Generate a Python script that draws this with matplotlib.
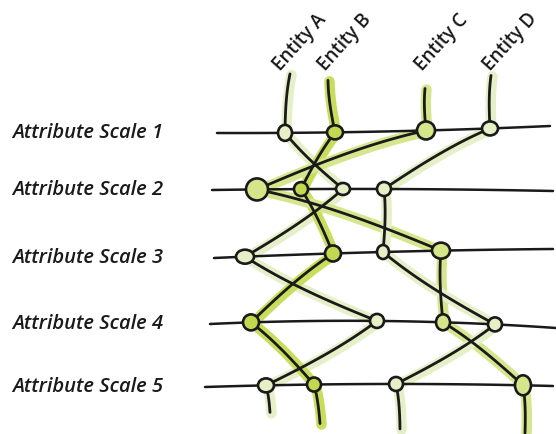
import numpy as np
import matplotlib
matplotlib.use("Agg")
import matplotlib.pyplot as plt
from matplotlib.patches import Ellipse

# scales (rows) and entities (columns)
scales = ["Attribute Scale 1", "Attribute Scale 2", "Attribute Scale 3",
          "Attribute Scale 4", "Attribute Scale 5"]
entities = ["Entity A", "Entity B", "Entity C", "Entity D"]

# position of each entity along each scale (left -> right)
entity_a = [285, 343, 245, 377, 266]
entity_b = [335, 301, 333, 251, 314]
entity_c = [426, 257, 441, 443, 523]
entity_d = [490, 384, 383, 495, 396]
values = [entity_a, entity_b, entity_c, entity_d]

# ---- layout / style (pixel space) ----
W, H = 556, 434
# each scale line: (x_left, x_right, y_left, y_mid, y_right)
scale_lines = [
    (217, 550, 133, 131.5, 126),
    (212, 553, 190, 189, 191),
    (214, 553, 258, 252, 249),
    (210, 556, 324, 321, 328),
    (205, 553, 387, 384, 386),
]
halo_col = ["#e5efc8", "#c9dd5c", "#d6e68e", "#e5efc8"]
node_col = ["#e6efc6", "#c2d94f", "#d5e589", "#e6efc6"]
node_rx = [[7, 7, 9, 7, 8], [8, 7, 8, 8, 7], [9, 11, 9, 7, 8], [8, 7, 6, 7, 7]]
node_ry = [[8, 6, 7, 7, 7], [7, 7, 8, 8, 7], [9, 11, 8, 8, 10], [7, 7, 7, 7, 7]]
tail_top = [(5, 59), (-7, 52), (-1, 42), (1, 53)]     # (dx, length)
tail_bot = [(4, 27), (6, 39), (2, 48), (4, 45)]
label_x = [280, 325, 422, 490]


def scale_y(i, x):
    xl, xr, yl, ym, yr = scale_lines[i]
    xm = (xl + xr) / 2
    c = np.polyfit([xl, xm, xr], [yl, ym, yr], 2)
    return np.polyval(c, x)


def curve(p0, p1, bend=0.05, n=40):
    p0, p1 = np.array(p0, float), np.array(p1, float)
    d = p1 - p0
    nrm = np.array([-d[1], d[0]]) * bend
    c1 = p0 + d / 3 + nrm
    c2 = p0 + 2 * d / 3 + nrm * 0.6
    t = np.linspace(0, 1, n)[:, None]
    pts = ((1 - t) ** 3) * p0 + 3 * ((1 - t) ** 2) * t * c1 + 3 * (1 - t) * t ** 2 * c2 + t ** 3 * p1
    return pts[:, 0], pts[:, 1]


fig = plt.figure(figsize=(W / 100, H / 100), dpi=100)
ax = fig.add_axes([0, 0, 1, 1])
ax.set_xlim(0, W)
ax.set_ylim(H, 0)
ax.axis("off")

paths = []
for e, xs in enumerate(values):
    pts = [(x, scale_y(i, x)) for i, x in enumerate(xs)]
    segs = []
    top = (xs[0] + tail_top[e][0], pts[0][1] - tail_top[e][1])
    bot = (xs[-1] + tail_bot[e][0], pts[-1][1] + tail_bot[e][1])
    segs.append(curve(top, pts[0], 0.04))
    for i in range(len(pts) - 1):
        segs.append(curve(pts[i], pts[i + 1], 0.04 * (-1) ** i))
    segs.append(curve(pts[-1], bot, -0.04))
    paths.append((pts, segs))

# halos
for e, (pts, segs) in enumerate(paths):
    for sx, sy in segs:
        ax.plot(sx + 1.5, sy + 1, color=halo_col[e], lw=7.5, solid_capstyle="round", zorder=1)

# scale lines
for i in range(len(scales)):
    xl, xr = scale_lines[i][0], scale_lines[i][1]
    xx = np.linspace(xl, xr, 80)
    ax.plot(xx, scale_y(i, xx), color="#1a1a1a", lw=1.8, solid_capstyle="round", zorder=2)
    ax.text(12, scale_y(i, xl), scales[i], fontsize=14.5, style="italic", fontweight="semibold",
            family="Open Sans", color="#1a1a1a", va="center", ha="left")

# entity lines and nodes
for e, (pts, segs) in enumerate(paths):
    for sx, sy in segs:
        ax.plot(sx, sy, color="#1a1a1a", lw=2.0, solid_capstyle="round", zorder=3)
    for i, (x, y) in enumerate(pts):
        ax.add_patch(Ellipse((x, y), 2 * node_rx[e][i], 2 * node_ry[e][i], facecolor=node_col[e],
                             edgecolor="#1a1a1a", lw=1.9, zorder=4))
    ax.text(label_x[e], 72, entities[e], rotation=48, rotation_mode="anchor", ha="left",
            va="baseline", fontsize=13.5, fontweight="semibold", family="Open Sans", color="#1a1a1a")

fig.savefig("out.png", dpi=100)
